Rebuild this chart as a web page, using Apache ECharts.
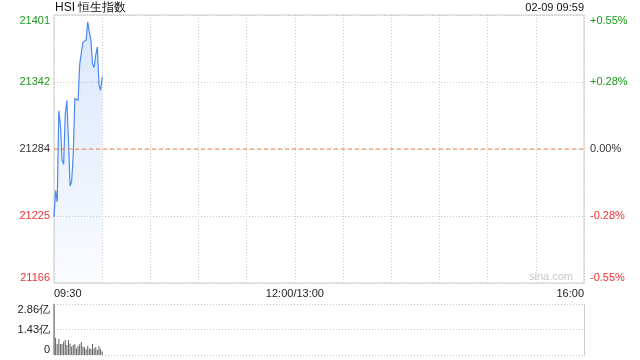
<!DOCTYPE html>
<html>
<head>
<meta charset="utf-8">
<script src="https://cdn.jsdelivr.net/npm/echarts@6/dist/echarts.min.js"></script>
<style>html,body{margin:0;padding:0;background:#fff}#c{width:640px;height:360px}</style>
</head>
<body>
<div id="c"></div>
<script>
// ---- data ----
const prevClose = 21283.5;
const priceMin = 21166;
const priceMax = 21401;
const priceValues = [21224, 21247, 21237, 21317, 21305, 21274, 21270, 21314, 21326, 21291,
  21251, 21255, 21280, 21328, 21327, 21326, 21358, 21358, 21377, 21378,
  21379, 21395, 21386, 21379, 21358, 21355, 21366, 21373, 21340, 21335, 21347];
const volumeValues = [2.86, 0.97, 0.62, 0.9, 0.62, 0.62, 0.75, 0.84, 0.56, 0.84,
  0.65, 0.47, 0.56, 0.62, 0.37, 0.5, 0.6, 0.73, 0.47, 0.43,
  0.32, 0.5, 0.37, 0.34, 0.62, 0.37, 0.45, 0.3, 0.5, 0.35, 0.19];
const leftTicks = ['21166', '21225', '21284', '21342', '21401'];
const rightTicks = ['-0.55%', '-0.28%', '0.00%', '+0.28%', '+0.55%'];
const tickColors = ['#f03030', '#f03030', '#333333', '#1a9c1a', '#1a9c1a'];
const volTicks = ['0', '1.43亿', '2.86亿'];
const volMax = 2.86;
const titleText = 'HSI 恒生指数';
const timeText = '02-09 09:59';

// time categories: 09:30..12:00/13:00..16:00
const categories = [];
function pad(n){return (n<10?'0':'')+n;}
for (let m = 0; m <= 150; m++) {
  const t = 9*60+30+m;
  categories.push(m === 150 ? '12:00/13:00' : pad(Math.floor(t/60))+':'+pad(t%60));
}
for (let m = 1; m <= 180; m++) {
  const t = 13*60+m;
  categories.push(pad(Math.floor(t/60))+':'+pad(t%60));
}
const labelIdx = [0, 150, categories.length-1];
const lastIdx = categories.length - 1;

const font = "'Liberation Sans', Arial, sans-serif";
const chart = echarts.init(document.getElementById('c'), null, {renderer:'canvas'});
const pInterval = (priceMax - priceMin) / 4;

chart.setOption({
  animation: false,
  textStyle: {fontFamily: font},
  title: [
    {text: titleText, left: 55, top: 2, padding: 0, textStyle: {fontSize: 12, fontWeight: 'normal', color: '#111', fontFamily: font}},
    {text: timeText, right: 56, top: 2, padding: 0, textStyle: {fontSize: 11, fontWeight: 'normal', color: '#111', fontFamily: font}}
  ],
  graphic: [{
    type: 'text', right: 67, top: 271,
    style: {text: 'sina.com', fill: '#c8c8c8', font: "11px " + font}
  }],
  grid: [
    {left: 54, right: 56, top: 15, height: 268, show: true, borderColor: '#cccccc', borderWidth: 1, containLabel: false},
    {left: 54, right: 56, top: 304, height: 51, show: false, containLabel: false}
  ],
  xAxis: [
    {
      type: 'category', gridIndex: 0, data: categories, boundaryGap: false,
      axisLine: {show: false}, axisTick: {show: false},
      axisLabel: {
        interval: (i) => labelIdx.indexOf(i) >= 0,
        fontSize: 11, color: '#222', margin: 5,
        alignMinLabel: 'left', alignMaxLabel: 'right', showMinLabel: true, showMaxLabel: true
      },
      splitLine: {show: true, interval: (i) => i % 30 === 0, lineStyle: {color: '#cccccc', type: [1, 2]}}
    },
    {
      type: 'category', gridIndex: 1, data: categories, boundaryGap: false,
      axisLine: {show: false}, axisTick: {show: false}, axisLabel: {show: false}, splitLine: {show: false}
    }
  ],
  yAxis: [
    {
      type: 'value', gridIndex: 0, min: priceMin, max: priceMax, interval: pInterval,
      axisLine: {show: false}, axisTick: {show: false},
      axisLabel: {
        fontSize: 11, margin: 4,
        formatter: (v, i) => leftTicks[Math.round((v - priceMin) / pInterval)],
        color: (v, i) => tickColors[Math.round((v - priceMin) / pInterval)],
        verticalAlignMinLabel: 'bottom', verticalAlignMaxLabel: 'top'
      },
      splitLine: {show: true, lineStyle: {color: '#cccccc', type: [1, 2]}}
    },
    {
      type: 'value', gridIndex: 0, position: 'right', min: priceMin, max: priceMax, interval: pInterval,
      axisLine: {show: false}, axisTick: {show: false},
      axisLabel: {
        fontSize: 11, margin: 6,
        formatter: (v, i) => rightTicks[Math.round((v - priceMin) / pInterval)],
        color: (v, i) => tickColors[Math.round((v - priceMin) / pInterval)],
        verticalAlignMinLabel: 'bottom', verticalAlignMaxLabel: 'top'
      },
      splitLine: {show: false}
    },
    {
      type: 'value', gridIndex: 1, min: 0, max: volMax, interval: volMax / 2,
      axisLine: {show: true, lineStyle: {color: '#cccccc'}}, axisTick: {show: false},
      axisLabel: {
        fontSize: 11, margin: 4, color: '#222',
        formatter: (v, i) => volTicks[Math.round(v / (volMax / 2))],
        verticalAlignMinLabel: 'bottom', verticalAlignMaxLabel: 'top'
      },
      splitLine: {show: true, lineStyle: {color: '#cccccc', type: [1, 2]}}
    },
    {
      type: 'value', gridIndex: 1, position: 'right', min: 0, max: volMax,
      axisLine: {show: true, lineStyle: {color: '#cccccc'}}, axisTick: {show: false},
      axisLabel: {show: false}, splitLine: {show: false}
    }
  ],
  series: [
    {
      type: 'line', xAxisIndex: 0, yAxisIndex: 0, data: priceValues,
      symbol: 'none', smooth: false, z: 3,
      lineStyle: {color: '#4a8af0', width: 1.2},
      areaStyle: {
        origin: 'start',
        color: new echarts.graphic.LinearGradient(0, 0, 0, 1, [
          {offset: 0, color: 'rgba(70,130,240,0.28)'},
          {offset: 1, color: 'rgba(70,130,240,0.04)'}
        ])
      }
    },
    {
      type: 'line', xAxisIndex: 0, yAxisIndex: 0, z: 4, silent: true,
      data: [[0, prevClose], [lastIdx, prevClose]],
      symbol: 'none', color: '#f08040',
      lineStyle: {color: '#f08040', type: [4, 3], width: 1}
    },
    {
      type: 'bar', xAxisIndex: 1, yAxisIndex: 2, data: volumeValues,
      barWidth: 1, itemStyle: {color: '#5e5e5e'}
    }
  ]
});
</script>
</body>
</html>
